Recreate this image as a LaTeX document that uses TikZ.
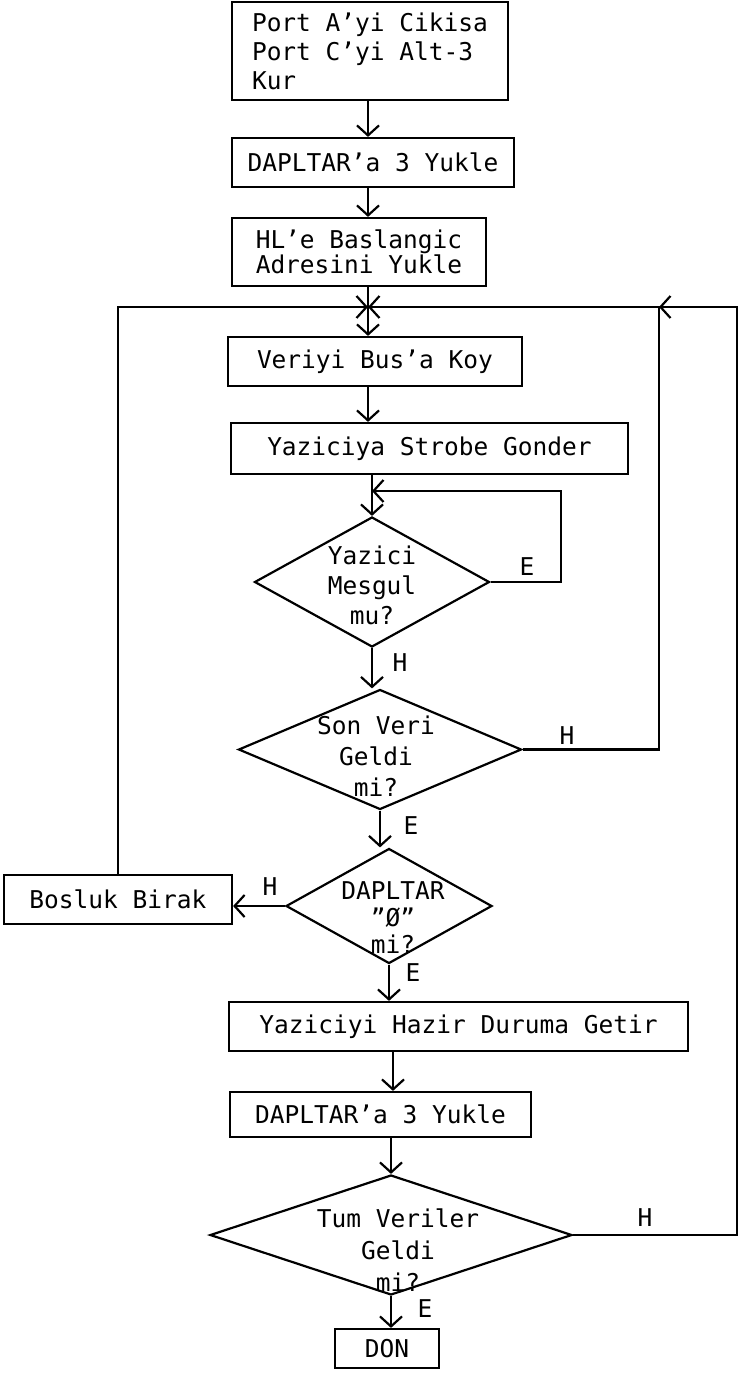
\documentclass[tikz,border=0pt]{standalone}
\usepackage{fontspec}
\setmainfont{DejaVu Sans Mono}
\usetikzlibrary{arrows.meta,shapes.geometric}
\begin{document}
\begin{tikzpicture}[x=1pt,y=-1pt,
  every node/.style={font=\fontsize{24.5}{28}\selectfont},
  box/.style={draw, line width=2.2pt, rectangle, inner sep=0pt, align=center},
  dia/.style={draw, line width=2.2pt, diamond, inner sep=0pt},
  dtext/.style={align=center, inner sep=0pt},
  lab/.style={inner sep=0pt},
  arr/.style={line width=2.2pt, -{Straight Barb[length=10pt,width=22pt]}}]
\useasboundingbox (0,0) rectangle (740,1379);
% boxes
\node[box, minimum width=276pt, minimum height=98pt, align=left, font=\fontsize{24.5}{29}\selectfont] (b1) at (370,51) {Port A'yi Cikisa\\Port C'yi Alt-3\\Kur};
\node[box, minimum width=282pt, minimum height=49pt] (b2) at (373,162.5) {DAPLTAR'a 3 Yukle};
\node[box, minimum width=254pt, minimum height=68pt, align=left, font=\fontsize{24.5}{25}\selectfont] (b3) at (359,252) {HL'e Baslangic\\Adresini Yukle};
\node[box, minimum width=294pt, minimum height=49pt] (veri) at (375,361.5) {Veriyi Bus'a Koy};
\node[box, minimum width=397pt, minimum height=51pt] (strobe) at (429.5,448.5) {Yaziciya Strobe Gonder};
\node[box, minimum width=228pt, minimum height=49pt] (bos) at (118,899.5) {Bosluk Birak};
\node[box, minimum width=459pt, minimum height=49pt] (hazir) at (458.5,1026.5) {Yaziciyi Hazir Duruma Getir};
\node[box, minimum width=301pt, minimum height=45pt] (dap2) at (380.5,1114.5) {DAPLTAR'a 3 Yukle};
\node[box, minimum width=104pt, minimum height=39pt] (don) at (387,1348.5) {DON};
% diamonds
\node[dia, minimum width=235pt, minimum height=130pt] (d1) at (372,582) {};
\node[dtext, font=\fontsize{24.5}{30}\selectfont] (t1) at (372,585) {Yazici\\Mesgul\\mu?};
\node[dia, minimum width=283pt, minimum height=120pt] (d2) at (380,749.5) {};
\node[dtext, font=\fontsize{24.5}{31}\selectfont] (t2) at (376,756) {Son Veri\\Geldi\\mi?};
\node[dia, minimum width=206pt, minimum height=115pt] (d3) at (389,906) {};
\node[dtext, font=\fontsize{24.5}{27}\selectfont] (t3) at (393,918) {DAPLTAR\\"Ø"\\mi?};
\node[dia, minimum width=362pt, minimum height=120pt] (d4) at (391,1235) {};
\node[dtext, font=\fontsize{24.5}{32}\selectfont] (t4) at (398,1250) {Tum Veriler\\Geldi\\mi?};
% labels
\node[lab] (e1) at (527,567) {E};
\node[lab] (h1) at (400,663) {H};
\node[lab] (h2) at (567,736) {H};
\node[lab] (e2) at (411,826) {E};
\node[lab] (h3) at (270,887) {H};
\node[lab] (e3) at (413,973) {E};
\node[lab] (h4) at (645,1218) {H};
\node[lab] (e4) at (425,1309) {E};
% coordinates
\coordinate (c1) at (368,0);
\coordinate (jn) at (368,307);
\coordinate (ir) at (659,307);
\coordinate (or) at (737,307);
\coordinate (slr) at (561,491);
\coordinate (c2) at (393,0);
% connectors
\draw[arr] (c1 |- b1.south) -- (c1 |- b2.north);
\draw[arr] (c1 |- b2.south) -- (c1 |- b3.north);
\draw[arr] (c1 |- b3.south) -- (c1 |- veri.north);
\draw[arr] (bos.north) |- (jn);
\draw[arr] (d2.east) -| (ir) -- (jn);
\draw[arr] (d4.east) -| (or) -- (ir);
\draw[arr] (c1 |- veri.south) -- (c1 |- strobe.north);
\draw[arr] (d1.north |- strobe.south) -- (d1.north);
\draw[arr] (d1.east) -| (slr) -- (d1.north |- slr);
\draw[arr] (d1.south) -- (d1.south |- d2.north);
\draw[arr] (d2.south) -- (d2.south |- d3.north);
\draw[arr] (d3.west) -- (d3.west -| bos.east);
\draw[arr] (d3.south) -- (d3.south |- hazir.north);
\draw[arr] (c2 |- hazir.south) -- (c2 |- dap2.north);
\draw[arr] (d4.north |- dap2.south) -- (d4.north);
\draw[arr] (d4.south) -- (d4.south |- don.north);
\end{tikzpicture}
\end{document}
